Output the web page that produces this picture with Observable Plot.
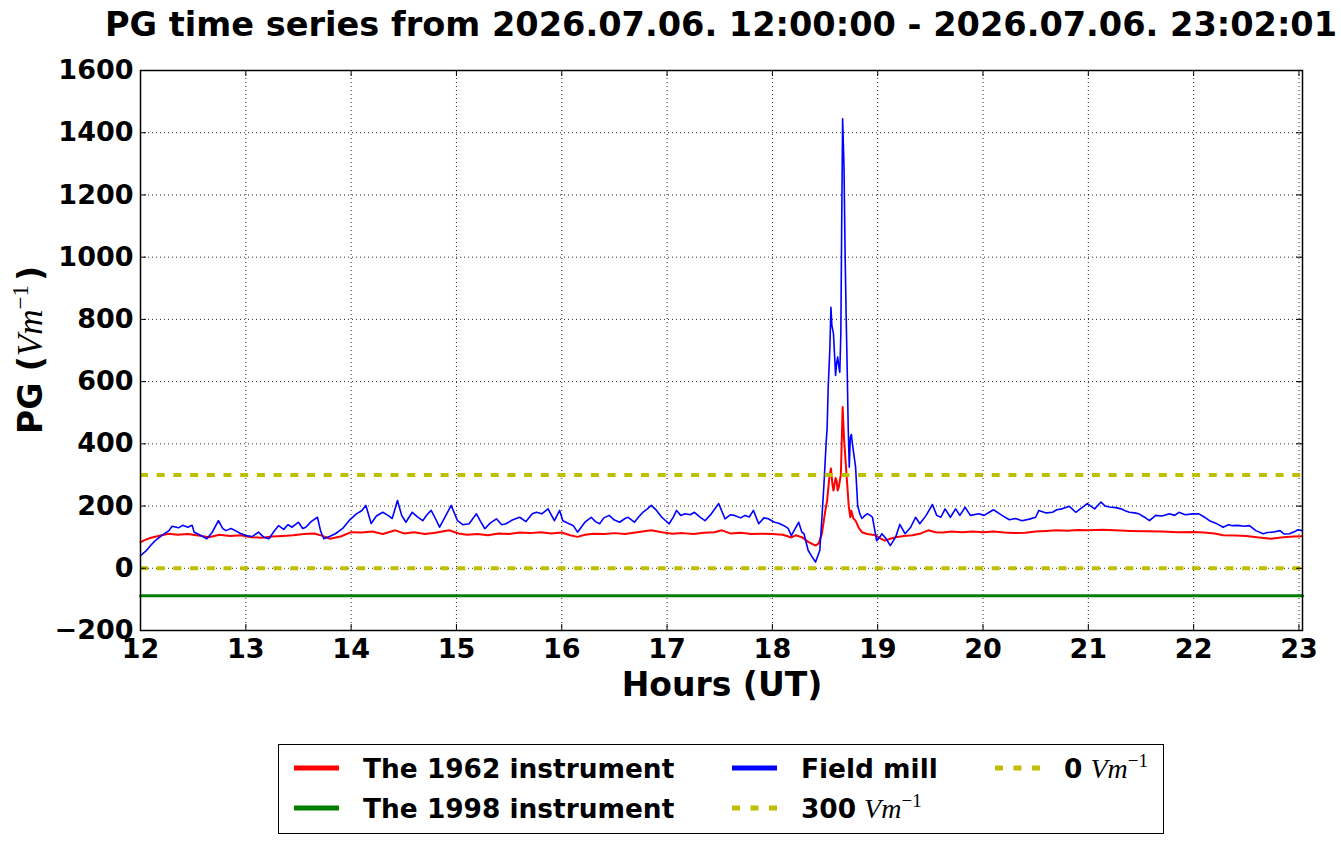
<!DOCTYPE html>
<html>
<head>
<meta charset="utf-8">
<script src="https://cdn.jsdelivr.net/npm/d3@7"></script>
<script src="https://cdn.jsdelivr.net/npm/@observablehq/plot@0.6"></script>
<style>
  html, body { margin: 0; padding: 0; background: #ffffff; }
  #wrap { position: relative; width: 1341px; height: 844px; }
  #legend { position: absolute; left: 278px; top: 744px; }
</style>
</head>
<body>
<div id="wrap"><div id="chart"></div><div id="legend"></div></div>
<script>
// ---------- data ----------
const titleText = "PG time series from 2026.07.06. 12:00:00 - 2026.07.06. 23:02:01";
const xTicks = [12, 13, 14, 15, 16, 17, 18, 19, 20, 21, 22, 23];
const yTicks = [-200, 0, 200, 400, 600, 800, 1000, 1200, 1400, 1600];
const xDomain = [12, 23.0336];
const yDomain = [-200, 1600];

// Field mill (blue)
const millHours = [12.00,12.05,12.10,12.14,12.20,12.27,12.30,12.36,12.40,12.45,12.49,12.51,12.56,12.63,12.68,12.74,12.78,12.81,12.86,12.90,12.95,13.00,13.06,13.12,13.17,13.22,13.27,13.31,13.36,13.40,13.44,13.50,13.54,13.57,13.62,13.68,13.71,13.74,13.80,13.85,13.92,13.98,14.05,14.10,14.14,14.19,14.24,14.30,14.35,14.39,14.44,14.48,14.52,14.58,14.63,14.68,14.72,14.76,14.80,14.84,14.90,14.95,15.01,15.06,15.12,15.19,15.23,15.27,15.32,15.38,15.43,15.47,15.53,15.60,15.66,15.72,15.76,15.81,15.87,15.93,15.98,16.01,16.06,16.11,16.15,16.22,16.28,16.32,16.36,16.40,16.45,16.50,16.55,16.60,16.63,16.69,16.73,16.77,16.81,16.85,16.90,16.95,17.02,17.06,17.09,17.13,17.17,17.22,17.26,17.31,17.36,17.42,17.49,17.55,17.60,17.64,17.70,17.74,17.78,17.82,17.87,17.92,17.96,18.02,18.06,18.11,18.15,18.18,18.22,18.25,18.28,18.30,18.34,18.38,18.41,18.45,18.47,18.49,18.51,18.52,18.53,18.545,18.556,18.565,18.58,18.60,18.61,18.62,18.63,18.64,18.65,18.658,18.667,18.675,18.68,18.69,18.70,18.71,18.72,18.73,18.74,18.75,18.76,18.79,18.81,18.83,18.85,18.88,18.90,18.93,18.95,18.99,19.02,19.04,19.08,19.12,19.17,19.21,19.26,19.31,19.36,19.40,19.46,19.52,19.56,19.60,19.64,19.69,19.74,19.78,19.83,19.88,19.96,20.01,20.06,20.10,20.18,20.25,20.31,20.37,20.44,20.50,20.53,20.60,20.66,20.70,20.75,20.82,20.88,20.94,20.99,21.06,21.12,21.16,21.20,21.26,21.31,21.35,21.39,21.44,21.48,21.53,21.58,21.64,21.70,21.77,21.82,21.86,21.92,21.99,22.05,22.10,22.15,22.21,22.28,22.33,22.37,22.42,22.48,22.53,22.59,22.66,22.70,22.75,22.82,22.86,22.91,22.96,22.99,23.03];
const millValues = [41,55,75,89,105,121,135,130,138,132,138,116,108,95,115,153,128,121,128,121,112,105,102,116,100,95,120,137,125,140,132,148,128,132,150,164,120,95,103,111,128,153,175,185,202,144,168,180,170,160,218,170,148,180,165,153,172,186,160,132,170,202,153,140,143,175,150,127,145,159,140,143,155,164,150,175,180,175,191,153,186,153,145,137,116,148,164,150,143,162,170,155,148,160,164,148,165,180,190,202,186,164,143,165,186,170,175,172,180,165,153,175,208,159,172,170,162,170,165,186,143,162,159,148,145,137,128,105,130,148,116,111,57,35,20,57,160,272,400,453,582,700,839,780,754,620,660,679,650,630,754,1100,1445,1350,1290,1021,820,646,450,325,421,430,400,325,202,175,160,170,175,170,164,89,100,111,95,73,100,141,111,130,164,143,170,205,170,164,191,164,191,170,196,170,175,170,180,188,170,156,160,153,158,164,186,178,180,188,191,199,180,195,208,191,213,200,197,195,191,185,180,178,175,165,153,170,168,175,170,180,172,175,175,165,153,145,132,140,137,138,135,137,121,111,115,116,121,110,111,118,124,121];

// The 1962 instrument (red)
const i1962Hours = [12.00,12.05,12.10,12.15,12.20,12.27,12.35,12.45,12.55,12.65,12.75,12.85,12.95,13.05,13.15,13.25,13.35,13.45,13.55,13.65,13.72,13.80,13.90,14.00,14.10,14.20,14.30,14.42,14.50,14.60,14.70,14.80,14.93,15.02,15.10,15.20,15.30,15.40,15.50,15.60,15.70,15.80,15.90,16.00,16.08,16.15,16.22,16.30,16.40,16.50,16.60,16.70,16.85,16.95,17.05,17.15,17.25,17.35,17.45,17.52,17.60,17.70,17.80,17.90,18.00,18.10,18.18,18.22,18.28,18.34,18.41,18.44,18.47,18.50,18.52,18.54,18.556,18.57,18.58,18.60,18.61,18.62,18.63,18.65,18.667,18.68,18.69,18.71,18.725,18.74,18.75,18.77,18.79,18.82,18.85,18.90,18.98,19.03,19.07,19.12,19.17,19.25,19.33,19.41,19.48,19.55,19.62,19.70,19.80,19.90,20.00,20.10,20.20,20.30,20.40,20.50,20.60,20.70,20.80,20.90,21.00,21.13,21.25,21.40,21.55,21.70,21.85,22.00,22.10,22.20,22.28,22.40,22.50,22.60,22.73,22.85,22.95,23.03];
const i1962Values = [84,92,98,102,106,111,108,110,105,100,108,104,106,100,98,102,104,106,110,112,105,95,102,116,115,118,110,122,112,116,110,114,122,112,108,110,106,112,110,115,113,116,112,115,106,101,108,111,110,113,110,115,122,116,111,113,110,114,116,122,112,114,110,111,110,108,99,106,100,85,73,80,111,180,218,290,321,270,250,290,282,250,260,300,518,420,369,272,200,164,185,160,153,130,116,110,106,95,89,95,100,104,106,112,122,116,115,118,116,118,116,118,115,113,114,118,120,122,121,123,122,124,122,120,119,118,116,117,115,112,106,105,104,100,95,100,102,103];

// The 1998 instrument (green): constant reading across the window
const i1998Hours = [12.00, 23.0336];
const i1998Values = [-88, -88];

// Reference levels
const refLevels = [300, 0];

// ---------- build ----------
const mill = millHours.map((h, i) => ({h, v: millValues[i]}));
const red = i1962Hours.map((h, i) => ({h, v: i1962Values[i]}));
const green = i1998Hours.map((h, i) => ({h, v: i1998Values[i]}));

const fmt = d => d < 0 ? "\u2212" + Math.abs(d) : String(d);
const olive = "#bfbf00";

const chart = Plot.plot({
  width: 1341,
  height: 720,
  marginLeft: 140,
  marginRight: 39,
  marginTop: 70,
  marginBottom: 90,
  style: {fontFamily: "'DejaVu Sans', sans-serif", fontSize: "27px", fontWeight: "bold", background: "#ffffff", color: "#000"},
  x: {domain: xDomain, label: null},
  y: {domain: yDomain, label: null},
  marks: [
    Plot.gridX({ticks: xTicks, stroke: "#000", strokeOpacity: 0.85, strokeWidth: 1, strokeDasharray: "1,3"}),
    Plot.gridY({ticks: yTicks, stroke: "#000", strokeOpacity: 0.85, strokeWidth: 1, strokeDasharray: "1,3"}),
    Plot.line(red, {x: "h", y: "v", stroke: "#ff0000", strokeWidth: 2}),
    Plot.line(green, {x: "h", y: "v", stroke: "#008000", strokeWidth: 3}),
    Plot.line(mill, {x: "h", y: "v", stroke: "#0000ff", strokeWidth: 1.6}),
    Plot.ruleY([refLevels[0]], {stroke: olive, strokeWidth: 4, strokeDasharray: "8,8.7"}),
    Plot.ruleY([refLevels[1]], {stroke: olive, strokeWidth: 4, strokeDasharray: "8,8.7"}),
    // inward ticks on all four sides
    Plot.ruleX(xTicks, {x: d => d, y1: yDomain[0], y2: yDomain[0], insetTop: -6, stroke: "#000"}),
    Plot.ruleX(xTicks, {x: d => d, y1: yDomain[1], y2: yDomain[1], insetBottom: -6, stroke: "#000"}),
    Plot.ruleY(yTicks, {y: d => d, x1: xDomain[0], x2: xDomain[0], insetRight: -6, stroke: "#000"}),
    Plot.ruleY(yTicks, {y: d => d, x1: xDomain[1], x2: xDomain[1], insetLeft: -6, stroke: "#000"}),
    Plot.axisX({ticks: xTicks, tickSize: 0, tickPadding: 8, tickFormat: d => String(d), label: null}),
    Plot.axisY({ticks: yTicks, tickSize: 0, tickPadding: 7, tickFormat: fmt, label: null}),
    Plot.frame({stroke: "#000", strokeWidth: 1.5})
  ]
});
document.getElementById("chart").appendChild(chart);

// ---------- texts (title, axis labels) ----------
const svg = d3.select(chart);
svg.append("text")
  .attr("x", 721).attr("y", 36)
  .attr("text-anchor", "middle")
  .style("font-family", "'DejaVu Sans', sans-serif")
  .style("font-weight", "bold").style("font-size", "33.6px")
  .text(titleText);

svg.append("text")
  .attr("x", 722).attr("y", 696)
  .attr("text-anchor", "middle")
  .style("font-family", "'DejaVu Sans', sans-serif")
  .style("font-weight", "bold").style("font-size", "33px")
  .text("Hours (UT)");

const yl = svg.append("text")
  .attr("transform", "translate(42,350) rotate(-90)")
  .attr("text-anchor", "middle")
  .style("font-family", "'DejaVu Sans', sans-serif")
  .style("font-weight", "bold").style("font-size", "33px");
yl.append("tspan").text("PG (");
yl.append("tspan").style("font-family", "'Liberation Serif', serif").style("font-style", "italic").style("font-weight", "normal").style("font-size", "35px").text("Vm");
yl.append("tspan").attr("dy", -14).style("font-family", "'Liberation Serif', serif").style("font-weight", "normal").style("font-size", "23px").text("\u22121");
yl.append("tspan").attr("dy", 14).attr("dx", 4).text(")");

// ---------- legend ----------
const lg = d3.select("#legend").append("svg")
  .attr("width", 886).attr("height", 90)
  .style("font-family", "'DejaVu Sans', sans-serif")
  .style("font-weight", "bold").style("font-size", "26.4px");
lg.append("rect").attr("x", 0.5).attr("y", 0.5).attr("width", 885).attr("height", 89)
  .attr("fill", "#fff").attr("stroke", "#000").attr("stroke-width", 1);

const items = [
  {x: 16, y: 24, color: "#ff0000", dash: null, label: "The 1962 instrument"},
  {x: 16, y: 64, color: "#008000", dash: null, label: "The 1998 instrument"},
  {x: 454, y: 24, color: "#0000ff", dash: null, label: "Field mill"},
  {x: 454, y: 64, color: olive, dash: "8,10.5", label: "300", math: true},
  {x: 717, y: 24, color: olive, dash: "8,10.5", label: "0", math: true}
];
items.forEach(it => {
  lg.append("line").attr("x1", it.x).attr("x2", it.x + 45).attr("y1", it.y).attr("y2", it.y)
    .attr("stroke", it.color).attr("stroke-width", 5)
    .attr("stroke-dasharray", it.dash);
  const t = lg.append("text").attr("x", it.x + 69).attr("y", it.y + 10);
  t.append("tspan").text(it.label);
  if (it.math) {
    t.append("tspan").attr("dx", 8).style("font-family", "'Liberation Serif', serif").style("font-style", "italic").style("font-weight", "normal").style("font-size", "28px").text("Vm");
    t.append("tspan").attr("dy", -11).style("font-family", "'Liberation Serif', serif").style("font-weight", "normal").style("font-size", "19px").text("\u22121");
  }
});
</script>
</body>
</html>
